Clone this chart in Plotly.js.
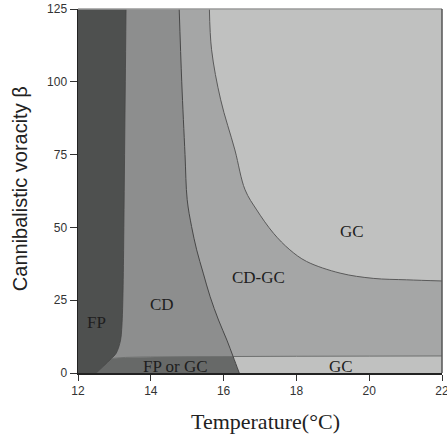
<!DOCTYPE html>
<html>
<head>
<meta charset="utf-8">
<script src="https://cdn.plot.ly/plotly-3.0.1.min.js"></script>
<style>html,body{margin:0;padding:0;background:#fff;}#chart{width:447px;height:436px;}</style>
</head>
<body>
<div id="chart"></div>
<script>
// Axis extents
const xRange = [12, 22];
const yRange = [0, 125];
const xTicks = [12, 14, 16, 18, 20, 22];
const yTicks = [0, 25, 50, 75, 100, 125];

// FP boundary (top down to the x axis)
const fpX = [13.32, 13.30, 13.28, 13.26, 13.24, 13.22, 13.20, 13.17, 13.05, 12.92, 12.69, 12.50];
const fpY = [125, 100, 75, 50, 30, 20, 15, 11.3, 6.8, 5.0, 2.2, 0];
// part of the FP boundary below the strip
const fpLowerX = [12.92, 12.69, 12.50];
const fpLowerY = [5.0, 2.2, 0];

// top edge of the bottom strip
const stripX = [12.92, 13.3, 14.0, 15.0, 16.26, 18, 20, 22];
const stripY = [5.0, 5.35, 5.55, 5.65, 5.7, 5.75, 5.8, 5.85];

// CD / CD-GC boundary continuing as the "FP or GC" / GC edge
const cdX = [14.78, 14.85, 14.94, 15.00, 15.12, 15.26, 15.44, 15.63, 15.86, 16.09, 16.26, 16.43];
const cdY = [125, 100, 75, 59.5, 50.3, 42.3, 34.3, 26.2, 18.2, 11.3, 5.7, 0];

// CD-GC / GC boundary
const gcX = [15.61, 15.67, 15.92, 16.31, 16.59, 16.91, 17.37, 17.82, 18.28, 19.2, 20.11, 21.03, 22];
const gcY = [125, 111, 93.8, 76.6, 62.9, 56, 48, 42.3, 38.3, 34.3, 32.5, 32, 31.6];

// region labels
const labelText = ['FP', 'CD', 'CD-GC', 'GC', 'FP or GC', 'GC'];
const labelX = [12.52, 14.30, 16.95, 19.54, 14.67, 19.23];
const labelY = [17.3, 23.5, 32.7, 48.6, 2.2, 2.3];

const colors = {
  FP: '#4e504f',
  CD: '#8d8e8e',
  CDGC: '#a5a6a6',
  GC: '#c0c1c0',
  FPGC: '#676968'
};

const xmin = xRange[0], xmax = xRange[1], ymin = yRange[0], ymax = yRange[1];
const rev = a => a.slice().reverse();
const jIdx = cdY.indexOf(stripY[stripX.indexOf(16.26)]);
const jx = cdX[jIdx], jy = cdY[jIdx];
const bx = cdX[cdX.length - 1], by = cdY[cdY.length - 1];
const sL = stripX.map((v, i) => i).filter(i => stripX[i] <= jx);
const sLX = sL.map(i => stripX[i]), sLY = sL.map(i => stripY[i]);

function helper(x, y) {
  return {x: x, y: y, type: 'scatter', mode: 'lines', line: {width: 0}, hoverinfo: 'skip', showlegend: false};
}
function curveFill(x, y, color) {
  return {x: x, y: y, type: 'scatter', mode: 'lines', fill: 'tonexty', fillcolor: color,
    line: {width: 0, shape: 'spline', smoothing: 1}, hoverinfo: 'skip', showlegend: false};
}
function poly(x, y, color) {
  return {x: x, y: y, type: 'scatter', mode: 'lines', fill: 'toself', fillcolor: color,
    line: {width: 0}, hoverinfo: 'skip', showlegend: false};
}
function bline(x, y, w, c, shape) {
  return {x: x, y: y, type: 'scatter', mode: 'lines',
    line: {width: w, color: c, shape: shape || 'linear', smoothing: 1},
    hoverinfo: 'skip', showlegend: false};
}

const traces = [
  // GC upper region
  helper([gcX[0], xmax], [ymax, ymax]),
  curveFill(gcX, gcY, colors.GC),
  // CD region (left of CD boundary)
  helper([xmin, xmin], [ymax, ymin]),
  curveFill(cdX, cdY, colors.CD),
  // GC strip along the bottom
  poly([...stripX, xmax, fpLowerX[fpLowerX.length - 1]], [...stripY, ymin, ymin], colors.GC),
  // FP or GC region
  poly([...fpLowerX, bx, jx, ...rev(sLX).slice(1)], [...fpLowerY, by, jy, ...rev(sLY).slice(1)], colors.FPGC),
  // FP region
  helper([xmin, xmin], [ymax, ymin]),
  curveFill(fpX, fpY, colors.FP),
  // boundary lines
  bline(stripX, stripY, 1, '#6e706f'),
  bline(fpX, fpY, 0.8, '#454545', 'spline'),
  bline(cdX, cdY, 1, '#474747', 'spline'),
  bline(gcX, gcY, 1, '#5a5a5a', 'spline')
];

const annotations = labelText.map((t, i) => ({
  x: labelX[i], y: labelY[i], xref: 'x', yref: 'y', text: t, showarrow: false,
  xanchor: 'center', yanchor: 'middle',
  font: {family: 'Liberation Serif, serif', size: 17, color: '#1e1e1e'}
}));
annotations.push({
  xref: 'paper', yref: 'paper', x: 0.514, y: 0, yshift: -48, xanchor: 'center', yanchor: 'middle',
  text: 'Temperature(°C)', showarrow: false,
  font: {family: 'Liberation Serif, serif', size: 22, color: '#222'}
});
annotations.push({
  xref: 'paper', yref: 'paper', x: 0, xshift: -58, y: 0.505, xanchor: 'center', yanchor: 'middle',
  text: 'Cannibalistic voracity β', textangle: -90, showarrow: false,
  font: {family: 'Liberation Sans, Arial, sans-serif', size: 20, color: '#222'}
});

const layout = {
  width: 447, height: 436,
  margin: {l: 78, r: 5, t: 9, b: 63},
  paper_bgcolor: '#ffffff',
  plot_bgcolor: colors.CDGC,
  showlegend: false,
  xaxis: {
    range: xRange, tickvals: xTicks, ticktext: xTicks.map(String),
    ticks: 'outside', ticklen: 6, tickwidth: 1, tickcolor: '#333',
    ticklabeloverflow: 'allow',
    showline: true, linecolor: '#222', linewidth: 1.5,
    showgrid: false, zeroline: false, fixedrange: true,
    tickfont: {family: 'Liberation Sans, Arial, sans-serif', size: 12, color: '#333'}
  },
  yaxis: {
    range: yRange, tickvals: yTicks, ticktext: yTicks.map(String),
    ticks: 'outside', ticklen: 7, tickwidth: 1, tickcolor: '#333',
    showline: true, linecolor: '#222', linewidth: 1.5,
    showgrid: false, zeroline: false, fixedrange: true,
    tickfont: {family: 'Liberation Sans, Arial, sans-serif', size: 12, color: '#333'}
  },
  shapes: [
    {type: 'line', xref: 'paper', yref: 'paper', x0: 0, x1: 1, y0: 1, y1: 1, line: {color: '#9a9a9a', width: 1.5}},
    {type: 'line', xref: 'paper', yref: 'paper', x0: 1, x1: 1, y0: 0, y1: 1, line: {color: '#555', width: 1.5}}
  ],
  annotations: annotations
};

Plotly.newPlot('chart', traces, layout, {staticPlot: true, displayModeBar: false});
</script>
</body>
</html>
